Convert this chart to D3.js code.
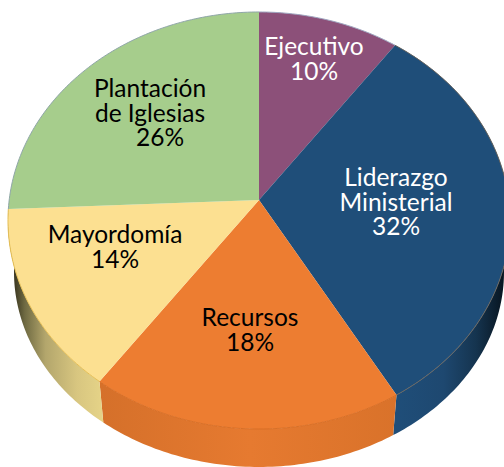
<!DOCTYPE html>
<html>
<head>
<meta charset="utf-8">
<style>
  html, body { margin: 0; padding: 0; background: #fff; overflow: hidden; }
  svg { display: block; }
  text { font-family: Lato, "Open Sans", sans-serif; font-size: 24.5px; text-anchor: middle; }
</style>
</head>
<body>
<div id="chart"></div>
<script src="https://cdn.jsdelivr.net/npm/d3@7/dist/d3.min.js"></script>
<script>
var categories = ["Ejecutivo", "Liderazgo Ministerial", "Recursos", "Mayordomía", "Plantación de Iglesias"];
var shares = [10, 31.6, 18.4, 14.3, 25.7];
var labelLines = [["Ejecutivo"], ["Liderazgo", "Ministerial"], ["Recursos"], ["Mayordomía"], ["Plantación", "de Iglesias"]];

var topColors = ["#8c5079", "#1f4e79", "#ed7d31", "#fce091", "#a6cd8c"];
var rimColors = ["#9fa6c0", "#6a6660", "#d96f26", "#e6bf55", "#8fa6a8"];
var textColors = ["#fff", "#fff", "#000", "#000", "#000"];
// [x, first baseline] of each label block, percent line x
var labelAt = [[314, 55, 314], [396, 186, 396], [250, 326, 250], [115, 243, 115], [150, 97, 160]];

var W = 504, H = 467;
var cx = 259, cy = 200, rx = 249.8, ry = 206.5, tilt = 0.0983, lineH = 24.5;
// the disc's underside is a slightly smaller ellipse, further down
var topMidY = 220.5, lowMidY = 272, lowScaleX = 0.976, lowScaleY = 0.935;

var svg = d3.select("#chart").append("svg").attr("width", W).attr("height", H);
var defs = svg.append("defs");

function sideGradient(id, x1, x2, stops) {
  var g = defs.append("linearGradient").attr("id", id).attr("gradientUnits", "userSpaceOnUse")
    .attr("x1", x1).attr("x2", x2).attr("y1", 0).attr("y2", 0);
  stops.forEach(function (s) { g.append("stop").attr("offset", s[0]).attr("stop-color", s[1]); });
}
sideGradient("side-1", 395, 503, [[0, "#1f4e79"], [0.45, "#1e4870"], [0.75, "#15344f"], [1, "#081622"]]);
sideGradient("side-2", 100, 400, [[0, "#d5702a"], [0.5, "#e67a30"], [1, "#d9722a"]]);
sideGradient("side-3", 14, 104, [[0, "#3a3620"], [0.12, "#6f6a42"], [0.35, "#b3a66c"], [0.7, "#d8c680"], [1, "#e6d488"]]);

// perspective projection of the pie disc: centre is not the middle of the ellipse
function project(a) {
  var u = Math.sin(a), v = -Math.cos(a), w = 1 - tilt * v;
  return [cx + rx * u / w, cy + ry * v / w];
}
function lower(p) {
  return [cx + (p[0] - cx) * lowScaleX, lowMidY + (p[1] - topMidY) * lowScaleY];
}
function rimPoints(d) {
  var n = Math.max(8, Math.ceil((d.endAngle - d.startAngle) * 60));
  return d3.range(n + 1).map(function (i) {
    return project(d.startAngle + (d.endAngle - d.startAngle) * i / n);
  });
}

var pie = d3.pie().sort(null);
var arcs = pie(shares);
var line = d3.line();

// ---- side wall, only the slices that reach the front ----
svg.append("g").selectAll("path").data(arcs).enter()
  .filter(function (d, i) { return i >= 1 && i <= 3; })
  .append("path")
  .attr("d", function (d) {
    var rim = rimPoints(d);
    return line(rim.concat(rim.map(lower).reverse())) + "Z";
  })
  .attr("fill", function (d) { return "url(#side-" + d.index + ")"; });

// ---- top faces ----
svg.append("g").selectAll("path").data(arcs).enter().append("path")
  .attr("d", function (d) { return line([[cx, cy]].concat(rimPoints(d))) + "Z"; })
  .attr("fill", function (d) { return topColors[d.index]; });

// thin lit edge along each rim
svg.append("g").selectAll("path").data(arcs).enter().append("path")
  .attr("d", function (d) { return line(rimPoints(d)); })
  .attr("fill", "none").attr("stroke-width", 1)
  .attr("stroke", function (d) { return rimColors[d.index]; });

// ---- labels ----
var labels = svg.append("g").selectAll("text").data(arcs).enter().append("g")
  .attr("fill", function (d) { return textColors[d.index]; });
labels.each(function (d) {
  var g = d3.select(this), at = labelAt[d.index], rows = labelLines[d.index];
  rows.forEach(function (t, k) {
    g.append("text").attr("x", at[0]).attr("y", at[1] + k * lineH).text(t);
  });
  g.append("text").attr("x", at[2]).attr("y", at[1] + rows.length * lineH)
    .text(Math.round(shares[d.index]) + "%");
});
</script>
</body>
</html>
